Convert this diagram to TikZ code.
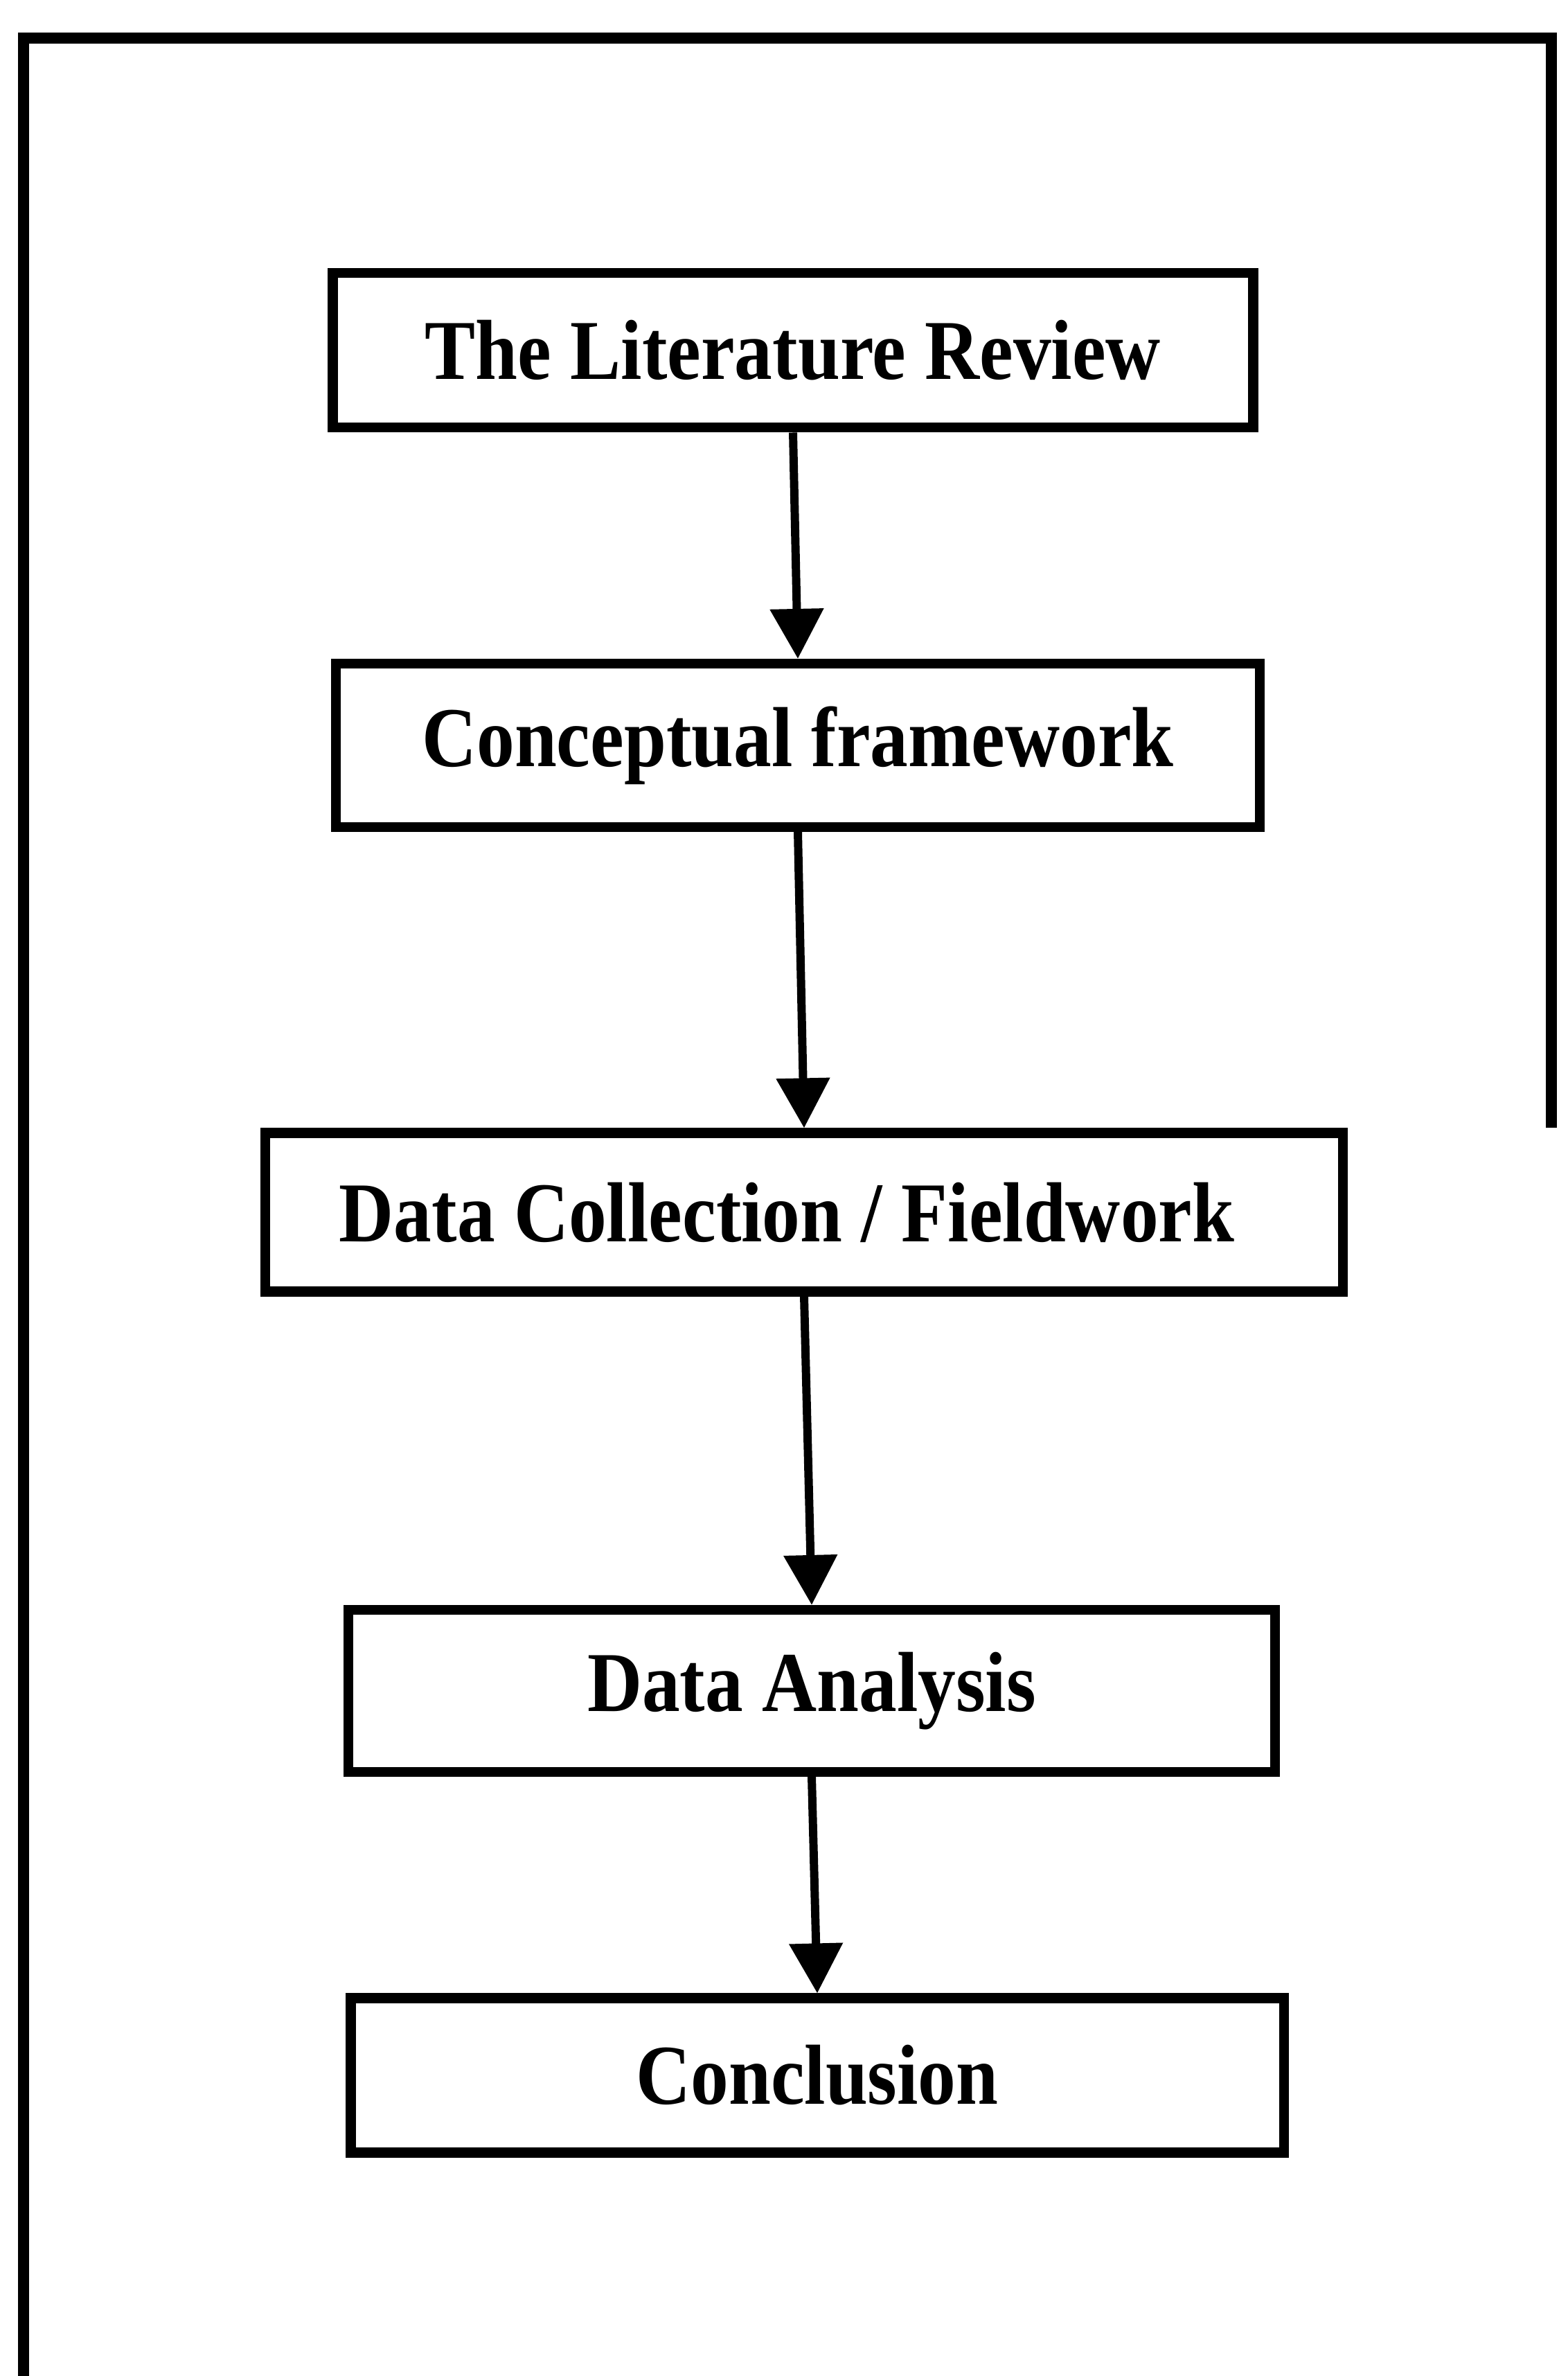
\documentclass[tikz,border=0pt]{standalone}
\usepackage{fontspec}
\setmainfont{Liberation Serif}[FakeStretch=0.89]
\usetikzlibrary{arrows.meta}

\begin{document}
\begin{tikzpicture}[
    stepbox/.style={draw, line width=4pt, minimum height=2.3cm, inner sep=0pt,
        font=\fontsize{35}{40}\selectfont\bfseries},
    flow/.style={line width=3.4pt, -{Triangle[width=0.75cm,length=0.72cm]}},
    frameline/.style={line width=4.3pt, line cap=rect}
]
        \useasboundingbox (0,0) rectangle (22.63,34.30);
        % outer frame (open at the bottom)
        \draw[frameline] (0.34,0) -- (0.34,33.75) -- (22.40,33.75) -- (22.40,18.1);
        %
        \node[stepbox, minimum width=13.29cm, minimum height=2.23cm] (review) at (11.45,29.24) {The Literature Review};
        \node[stepbox, minimum width=13.34cm, minimum height=2.36cm] (concept) at (11.52,23.54) {Conceptual framework};
        \node[stepbox, minimum width=15.56cm, minimum height=2.29cm] (fieldwork) at (11.61,16.80) {\hspace*{-0.5cm}Data Collection / Fieldwork};
        \node[stepbox, minimum width=13.38cm, minimum height=2.34cm] (analysis) at (11.72,9.89) {Data Analysis};
        \node[stepbox, minimum width=13.47cm, minimum height=2.23cm] (conclusion) at (11.80,4.34) {Conclusion};
        %
        \draw[flow] (review.south) -- (concept.north);
        \draw[flow] (concept.south) -- (fieldwork.north);
        \draw[flow] (fieldwork.south) -- (analysis.north);
        \draw[flow] (analysis.south) -- (conclusion.north);
\end{tikzpicture}
\end{document}
